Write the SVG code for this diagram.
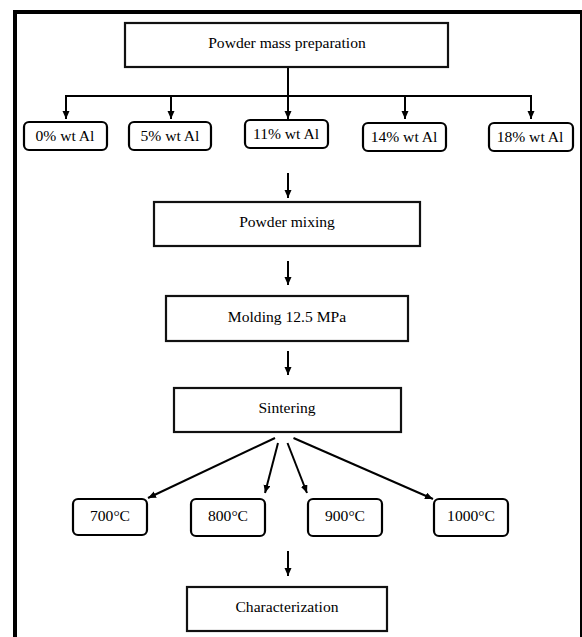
<svg xmlns="http://www.w3.org/2000/svg" width="582" height="637" viewBox="0 0 582 637">
  <defs>
    <marker id="ah" markerUnits="userSpaceOnUse" markerWidth="9" markerHeight="8" refX="8" refY="3.5" orient="auto">
      <path d="M0,0 L8,3.5 L0,7 z" fill="#000"/>
    </marker>
    <style>
      .box{fill:#fff;stroke:#111;stroke-width:2.2}
      .rbox{fill:#fff;stroke:#000;stroke-width:2.2}
      .t{font-family:"Liberation Serif","DejaVu Serif",serif;font-size:15.6px;fill:#000;text-anchor:middle}
      .c{stroke:#000;stroke-width:2;fill:none}
      .ca{stroke:#000;stroke-width:2;fill:none;marker-end:url(#ah)}
    </style>
  </defs>
  <rect x="0" y="0" width="582" height="637" fill="#fff"/>
  <g id="frame">
    <line x1="15" y1="12" x2="15" y2="637" stroke="#000" stroke-width="4"/>
    <line x1="13" y1="12" x2="582" y2="12" stroke="#000" stroke-width="4"/>
    <line x1="581" y1="12" x2="581" y2="637" stroke="#000" stroke-width="2"/>
  </g>

  <g id="connectors">
    <line class="ca" x1="288" y1="67" x2="288" y2="119"/>
    <line class="c" x1="66" y1="96" x2="531" y2="96"/>
    <line class="ca" x1="66" y1="95" x2="66" y2="119"/>
    <line class="ca" x1="171" y1="95" x2="171" y2="119"/>
    <line class="ca" x1="405" y1="95" x2="405" y2="119"/>
    <line class="ca" x1="531" y1="95" x2="531" y2="119"/>
    <line class="ca" x1="288" y1="173" x2="288" y2="198"/>
    <line class="ca" x1="288" y1="261" x2="288" y2="285"/>
    <line class="ca" x1="288" y1="351" x2="288" y2="375"/>
    <line class="ca" x1="275" y1="438" x2="148" y2="498"/>
    <line class="ca" x1="278" y1="443" x2="265" y2="493"/>
    <line class="ca" x1="287.5" y1="443" x2="307" y2="493"/>
    <line class="ca" x1="293.5" y1="438" x2="433" y2="499"/>
    <line class="ca" x1="288" y1="551" x2="288" y2="576"/>
  </g>

  <g id="n-powder-mass">
    <rect class="box" x="125" y="23" width="323" height="44"/>
    <text class="t" x="287" y="48">Powder mass preparation</text>
  </g>
  <g id="n-0">
    <rect class="rbox" x="24" y="122" width="83" height="28" rx="5"/>
    <text class="t" x="65" y="141">0% wt Al</text>
  </g>
  <g id="n-5">
    <rect class="rbox" x="129" y="122" width="82" height="28" rx="5"/>
    <text class="t" x="170" y="141">5% wt Al</text>
  </g>
  <g id="n-11">
    <rect class="rbox" x="245" y="120" width="83" height="28" rx="5"/>
    <text class="t" x="286" y="139">11% wt Al</text>
  </g>
  <g id="n-14">
    <rect class="rbox" x="363" y="123" width="83" height="28" rx="5"/>
    <text class="t" x="404" y="142">14% wt Al</text>
  </g>
  <g id="n-18">
    <rect class="rbox" x="489" y="123" width="84" height="28" rx="5"/>
    <text class="t" x="530" y="142">18% wt Al</text>
  </g>
  <g id="n-mixing">
    <rect class="box" x="154" y="202" width="266" height="44"/>
    <text class="t" x="287" y="227">Powder mixing</text>
  </g>
  <g id="n-molding">
    <rect class="box" x="166" y="296" width="242" height="45"/>
    <text class="t" x="287" y="322">Molding 12.5 MPa</text>
  </g>
  <g id="n-sintering">
    <rect class="box" x="174" y="388" width="227" height="44"/>
    <text class="t" x="287" y="413">Sintering</text>
  </g>
  <g id="n-700">
    <rect class="rbox" x="73" y="499" width="74" height="36" rx="5"/>
    <text class="t" x="110" y="521">700°C</text>
  </g>
  <g id="n-800">
    <rect class="rbox" x="191" y="499" width="74" height="37" rx="5"/>
    <text class="t" x="228" y="521">800°C</text>
  </g>
  <g id="n-900">
    <rect class="rbox" x="308" y="499" width="74" height="37" rx="5"/>
    <text class="t" x="345" y="521">900°C</text>
  </g>
  <g id="n-1000">
    <rect class="rbox" x="434" y="499" width="74" height="37" rx="5"/>
    <text class="t" x="471" y="521">1000°C</text>
  </g>
  <g id="n-characterization">
    <rect class="box" x="187" y="587" width="200" height="44"/>
    <text class="t" x="287" y="612">Characterization</text>
  </g>
</svg>
